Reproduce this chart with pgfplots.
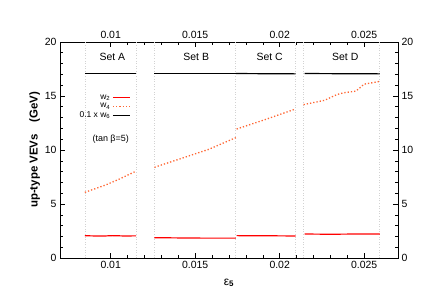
\documentclass[border=0pt]{standalone}
\usepackage{fontspec}
\setmainfont{Liberation Sans}
\usepackage{pgfplots}
\pgfplotsset{compat=1.18}
\begin{document}
\begin{tikzpicture}
\pgfplotsset{
  common/.style={
    scale only axis, width=338bp, height=216bp,
    xmin=0.007, xmax=0.027, ymin=0, ymax=20,
    xtick={0.01,0.015,0.02,0.025},
    xticklabels={0.01,0.015,0.02,0.025},
    scaled x ticks=false,
    ytick={0,5,10,15,20},
    minor x tick num=4, minor y tick num=4,
    tick align=inside,
    tick style={black, line width=0.6pt},
    major tick length=5bp, minor tick length=3bp,
    /pgf/number format/assume math mode=true,
    tick label style={font=\fontsize{10.5}{12}\selectfont},
    axis line style={line width=0.8pt},
  }
}
\begin{axis}[common,
  xtick pos=both, ytick pos=both,
  xticklabel pos=lower, yticklabel pos=left,
  xlabel={\fontsize{12}{14}\selectfont ε\textsubscript{\textbf{5}}},
  ylabel={\fontsize{11.5}{14}\selectfont\bfseries up-type VEVs\quad (GeV)},
  ylabel style={yshift=-2bp},
  xlabel style={yshift=-3bp},
  legend style={draw=none, fill=none, at={(rel axis cs:0.218,0.775)}, anchor=north east,
    font=\fontsize{8.5}{10}\selectfont, row sep=-1.5bp},
  legend cell align=right,
  legend plot pos=right,
  clip=false,
]
\coordinate (BL) at (rel axis cs:0,0);
\coordinate (TR) at (rel axis cs:1,1);
% guide lines
\foreach \xx in {0.00847,0.01151,0.01259,0.01740,0.02094,0.02141,0.02592}{
  \edef\tmp{\noexpand\draw[gray!35, dotted, line width=0.6pt] (axis cs:\xx,0) -- (axis cs:\xx,20);}
  \tmp
}
% w2
\addplot[red, line width=1.2pt, forget plot] coordinates {(0.00847,2.06) (0.0095,2.03) (0.0101,2.07) (0.0108,2.04) (0.01151,2.05)};
\addplot[red, line width=1.2pt, forget plot] coordinates {(0.01259,1.88) (0.0140,1.86) (0.0155,1.84) (0.0165,1.84) (0.01740,1.84)};
\addplot[red, line width=1.2pt, forget plot] coordinates {(0.01745,2.07) (0.0190,2.06) (0.02094,2.04)};
\addplot[red, line width=1.2pt, forget plot] coordinates {(0.02147,2.22) (0.0230,2.20) (0.0245,2.22) (0.02592,2.23)};
% w4
\addplot[color={rgb,255:red,255;green,102;blue,51}, dotted, line width=1.3pt, forget plot] coordinates {(0.00847,6.08) (0.0097,6.76) (0.0105,7.3) (0.01151,8.05)};
\addplot[color={rgb,255:red,255;green,102;blue,51}, dotted, line width=1.3pt, forget plot] coordinates {(0.01259,8.4) (0.0142,9.23) (0.0158,10.06) (0.01740,11.14)};
\addplot[color={rgb,255:red,255;green,102;blue,51}, dotted, line width=1.3pt, forget plot] coordinates {(0.01745,11.94) (0.0192,12.85) (0.02094,13.8)};
\addplot[color={rgb,255:red,255;green,102;blue,51}, dotted, line width=1.3pt, forget plot] coordinates {(0.02141,14.2) (0.02265,14.6) (0.02341,15.15) (0.0238,15.3) (0.02451,15.45) (0.02500,16.1) (0.02592,16.35)};
% w6
\addplot[black, line width=1.2pt, forget plot] coordinates {(0.00847,17.1) (0.01151,17.1)};
\addplot[black, line width=1.2pt, forget plot] coordinates {(0.01259,17.1) (0.01740,17.1)};
\addplot[black, line width=1.2pt, forget plot] coordinates {(0.01740,17.08) (0.02094,17.05)};
\addplot[black, line width=1.2pt, forget plot] coordinates {(0.02147,17.08) (0.02592,17.05)};
% legend
\addlegendimage{red, line width=1.2pt}
\addlegendentry{w\textsubscript{2}}
\addlegendimage{color={rgb,255:red,255;green,102;blue,51}, dotted, line width=1.3pt}
\addlegendentry{w\textsubscript{4}}
\addlegendimage{black, line width=1.2pt}
\addlegendentry{0.1 x w\textsubscript{6}}
\node[font=\fontsize{9}{11}\selectfont] at (axis cs:0.01,11.0) {(tan β=5)};
\node[font=\fontsize{10.5}{12}\selectfont] at (axis cs:0.0101,18.6) {Set A};
\node[font=\fontsize{10.5}{12}\selectfont] at (axis cs:0.01506,18.6) {Set B};
\node[font=\fontsize{10.5}{12}\selectfont] at (axis cs:0.01941,18.6) {Set C};
\node[font=\fontsize{10.5}{12}\selectfont] at (axis cs:0.02388,18.6) {Set D};
\end{axis}
\begin{axis}[common,
  xtick pos=both, ytick pos=both,
  xticklabel pos=upper, yticklabel pos=right,
  axis line style={draw=none}, tick style={draw=none},
]
\end{axis}
\pgfresetboundingbox
\path ([xshift=-60bp,yshift=-42bp]BL) rectangle ([xshift=30bp,yshift=42bp]TR);
\end{tikzpicture}
\end{document}
